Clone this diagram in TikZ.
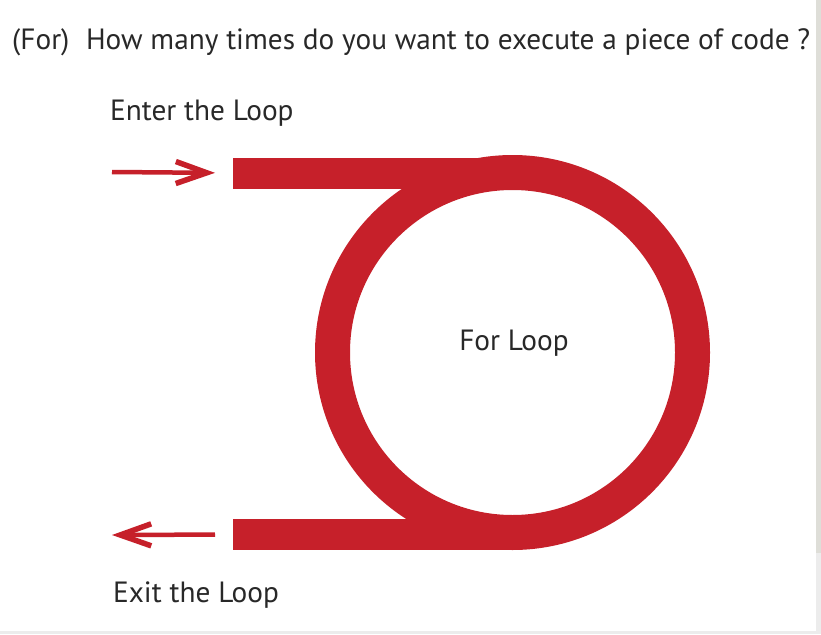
\documentclass[tikz,border=0pt]{standalone}
\usepackage{fontspec}
\setmainfont{PT Sans}
\usetikzlibrary{arrows.meta}
\definecolor{loopred}{RGB}{198,32,42}
\definecolor{txt}{RGB}{40,40,40}
\definecolor{edgegray}{RGB}{222,222,216}
\definecolor{edgelight}{RGB}{236,236,236}
\begin{document}
\begin{tikzpicture}[x=1pt,y=-1pt,
  label/.style={inner sep=0pt, anchor=base west, text=txt, font=\fontsize{29.3}{31}\selectfont},
  bar/.style={fill=loopred, inner sep=0pt, minimum width=279pt, minimum height=31pt, anchor=west},
  ring/.style={draw=loopred, line width=35pt},
  flow/.style={draw=loopred, line width=4.5pt, -{Straight Barb[length=31pt,width=22pt,line width=5.5pt]}}]
\useasboundingbox (0,0) rectangle (821,634);
\fill[white] (0,0) rectangle (821,634);
\fill[edgegray] (816,0) rectangle (821,553);
\fill[edgelight] (816,553) rectangle (821,634);
\fill[edgelight] (0,631) rectangle (821,634);
% title
\node[label] (title) at (12,50) {(For)\hspace{0.3em} How many times do you want to execute a piece of code ?};
% loop ring
\draw[ring] (512.5,352.5) circle[radius=180pt];
\node[inner sep=0pt, text=txt, font=\fontsize{29.3}{31}\selectfont] (loop) at (514,343) {For Loop};
% bars
\node[bar] (topbar) at (233,173) {};
\node[bar] (botbar) at (233,534.5) {};
% labels
\node[label] (enter) at (110,120) {Enter the Loop};
\node[label] (exit) at (113,602) {Exit the Loop};
% arrows
\coordinate (enterstart) at (112,172);
\coordinate (exitend) at (112,535);
\draw[flow, shorten >=18pt] (enterstart) -- (topbar.west);
\draw[flow, shorten <=18pt] (botbar.west) -- (exitend);
\end{tikzpicture}
\end{document}
